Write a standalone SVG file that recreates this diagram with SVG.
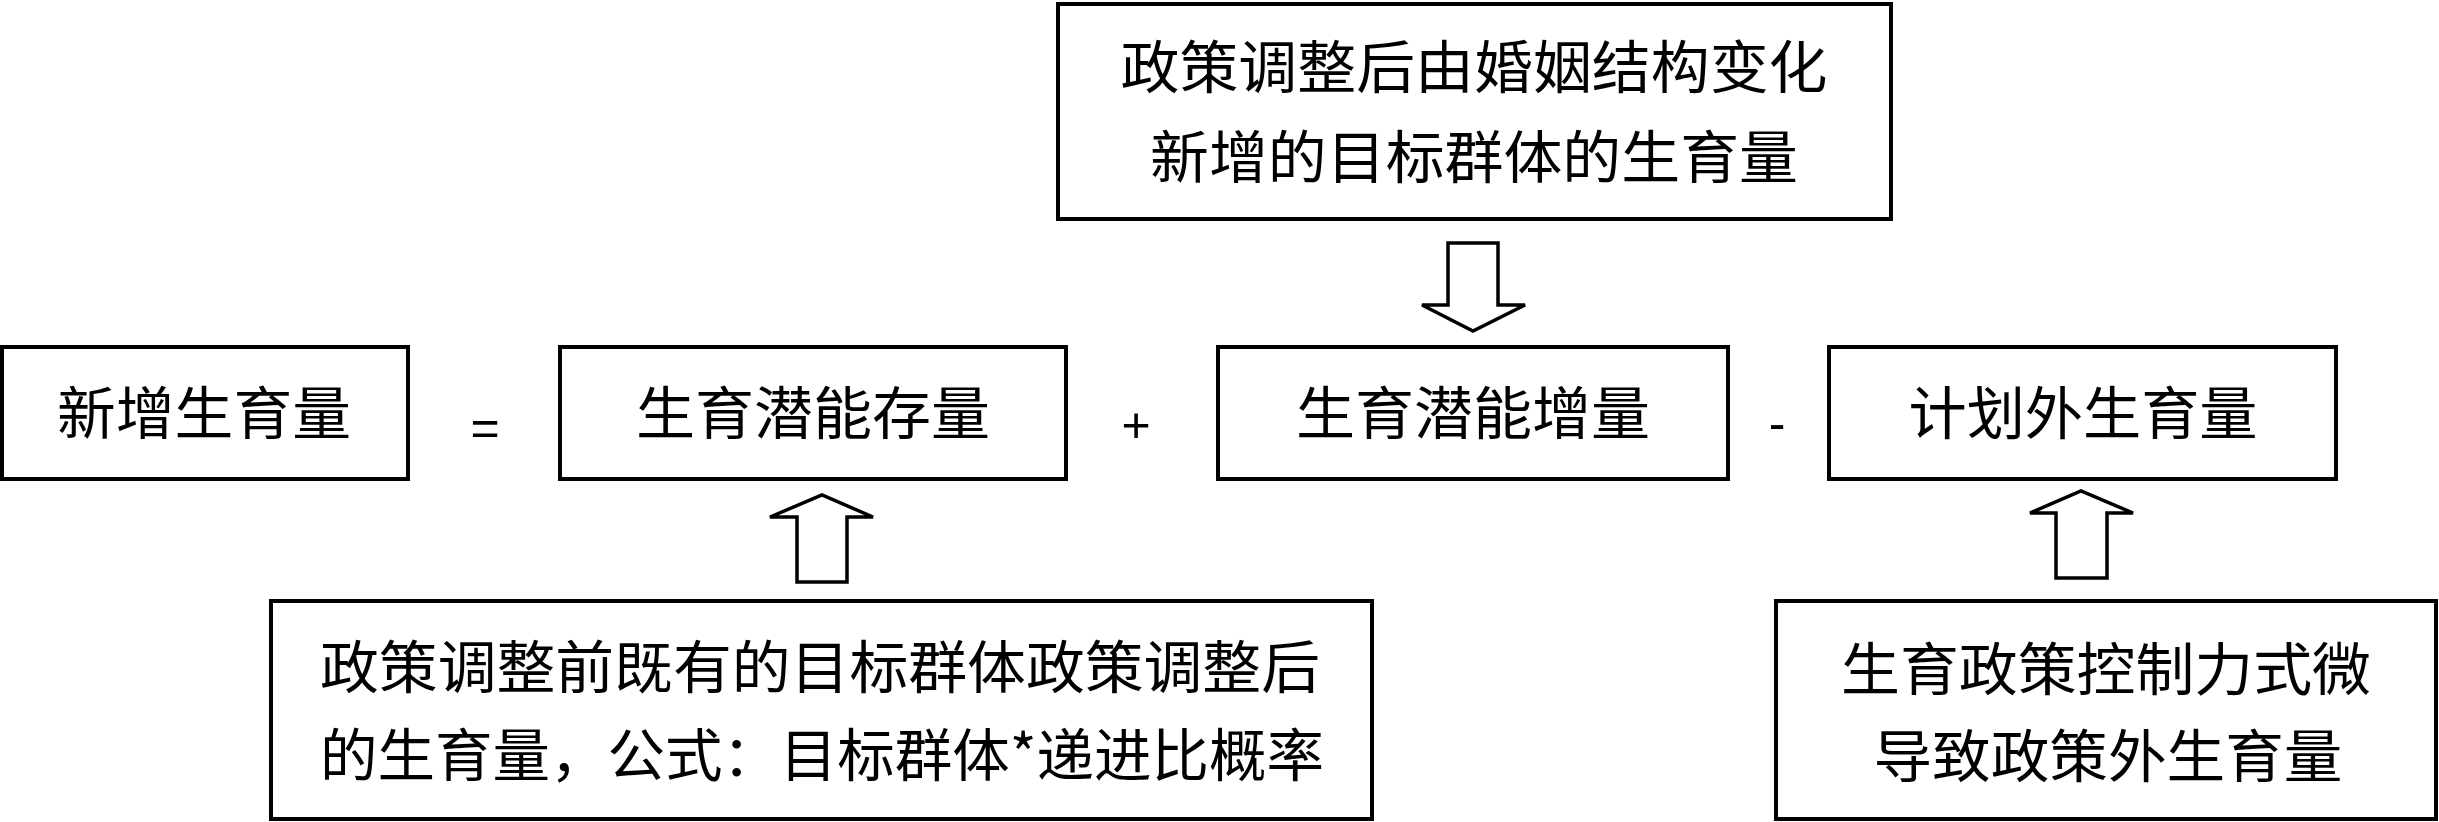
<svg xmlns="http://www.w3.org/2000/svg" width="2439" height="822" viewBox="0 0 2439 822">
<style>
.box{fill:#fff;stroke:#000;stroke-width:4}
.t{font-family:"Noto Sans CJK SC","Noto Sans",sans-serif;font-size:57px;fill:#000;text-anchor:middle}
.op{font-family:"Liberation Sans",sans-serif;font-size:50px;fill:#000;text-anchor:middle}
.arr{fill:#fff;stroke:#000;stroke-width:3.5;stroke-linejoin:miter}
</style>
<rect width="2439" height="822" fill="#fff"/>
<g id="connectors">
<polygon class="arr" points="1448,243 1498,243 1498,305 1525,305 1473,331 1422,305 1448,305"/>
<polygon class="arr" points="797,582 847,582 847,517 873,517 822,495 770,517 797,517"/>
<polygon class="arr" points="2056,578 2107,578 2107,513 2133,513 2081,491 2030,513 2056,513"/>
</g>
<g id="node-top">
<rect class="box" x="1058" y="4" width="833" height="215"/>
<text class="t" x="1474" y="88" textLength="707" lengthAdjust="spacingAndGlyphs">政策调整后由婚姻结构变化</text>
<text class="t" x="1474" y="178" textLength="648" lengthAdjust="spacingAndGlyphs">新增的目标群体的生育量</text>
</g>
<g id="node-new">
<rect class="box" x="2" y="347" width="406" height="132"/>
<text class="t" x="204" y="434" textLength="294" lengthAdjust="spacingAndGlyphs">新增生育量</text>
</g>
<g id="op-eq"><text class="op" x="485" y="445">=</text></g>
<g id="node-stock">
<rect class="box" x="560" y="347" width="506" height="132"/>
<text class="t" x="813" y="434" textLength="354" lengthAdjust="spacingAndGlyphs">生育潜能存量</text>
</g>
<g id="op-plus"><text class="op" x="1136" y="442">+</text></g>
<g id="node-incr">
<rect class="box" x="1218" y="347" width="510" height="132"/>
<text class="t" x="1473" y="434" textLength="354" lengthAdjust="spacingAndGlyphs">生育潜能增量</text>
</g>
<g id="op-minus"><text class="op" x="1777" y="440">-</text></g>
<g id="node-outplan">
<rect class="box" x="1829" y="347" width="507" height="132"/>
<text class="t" x="2083" y="434" textLength="349" lengthAdjust="spacingAndGlyphs">计划外生育量</text>
</g>
<g id="node-bl">
<rect class="box" x="271" y="601" width="1101" height="218"/>
<text class="t" x="820" y="688" textLength="1000" lengthAdjust="spacingAndGlyphs">政策调整前既有的目标群体政策调整后</text>
<text class="t" x="822" y="776" textLength="1004" lengthAdjust="spacingAndGlyphs">的生育量，公式：目标群体*递进比概率</text>
</g>
<g id="node-br">
<rect class="box" x="1776" y="601" width="660" height="218"/>
<text class="t" x="2106" y="690" textLength="530" lengthAdjust="spacingAndGlyphs">生育政策控制力式微</text>
<text class="t" x="2108" y="777" textLength="469" lengthAdjust="spacingAndGlyphs">导致政策外生育量</text>
</g>
</svg>
